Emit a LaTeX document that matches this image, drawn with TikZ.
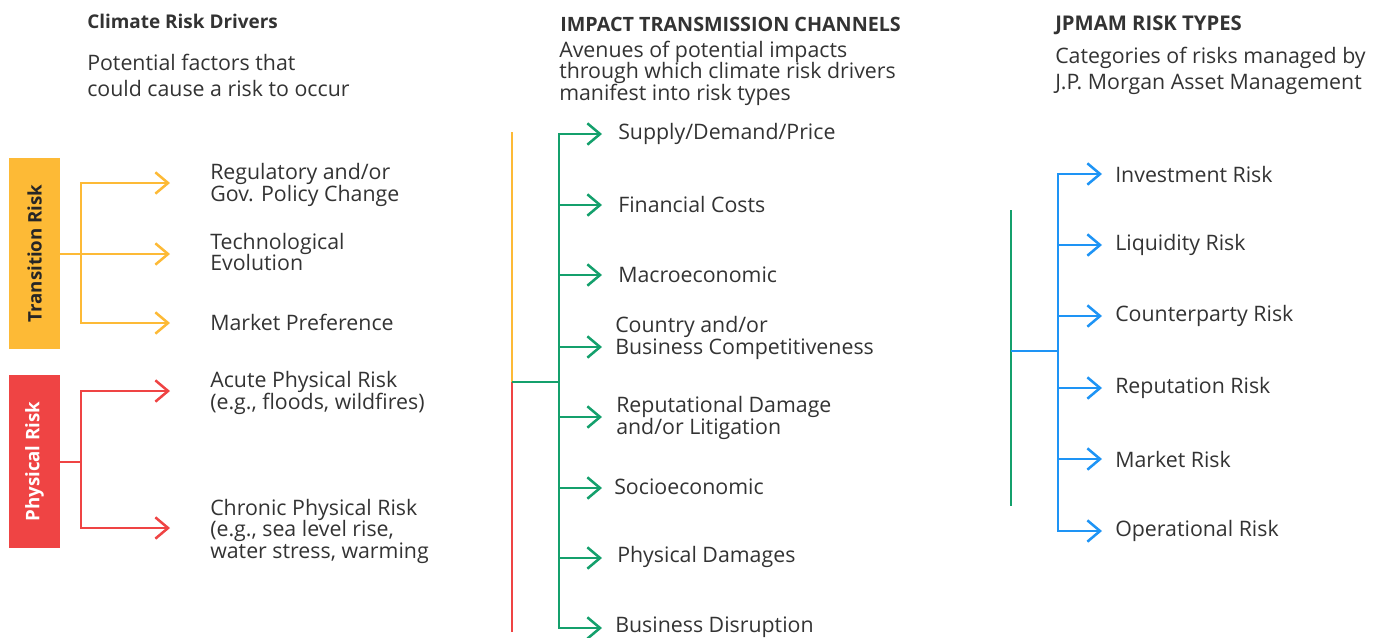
\documentclass[tikz,border=0pt]{standalone}
\usepackage{fontspec}
\setmainfont{Open Sans}
\usetikzlibrary{arrows.meta}
\definecolor{amber}{HTML}{FDBA36}
\definecolor{rred}{HTML}{EF4444}
\definecolor{ggreen}{HTML}{14A06C}
\definecolor{bblue}{HTML}{1E94F5}
\definecolor{txt}{HTML}{333333}
\newcommand{\bodyfont}{\fontsize{16}{16.1}\selectfont}
\tikzset{
  lab/.style={anchor=west, align=left, inner sep=0pt, text=txt, font=\bodyfont},
  ttl/.style={anchor=west, align=left, inner sep=0pt, text=txt},
  conn/.style={line width=1.9pt, line join=miter},
  tip/.style={-{Straight Barb[length=9.5pt,width=16pt]}},
  yline/.style={conn, draw=amber},
  rline/.style={conn, draw=rred},
  gline/.style={conn, draw=ggreen},
  bline/.style={conn, draw=bblue},
  riskbox/.style={rectangle, inner sep=0pt, minimum width=38.25pt, font=\fontsize{14}{16}\selectfont\bfseries}
}
\begin{document}
\begin{tikzpicture}[x=0.75pt,y=-0.75pt]
\useasboundingbox (0,0) rectangle (1381,637);

% ---- titles
\node[ttl, font=\fontsize{14.2}{16}\selectfont\bfseries] (h1) at (87,21) {Climate Risk Drivers};
\node[lab, font=\fontsize{16}{19.5}\selectfont] (s1) at (87,75) {Potential factors that\\could cause a risk to occur};
\node[ttl, font=\fontsize{14.8}{16}\selectfont\bfseries] (h2) at (560,24) {IMPACT TRANSMISSION CHANNELS};
\node[lab] (s2) at (559,73) {Avenues of potential impacts\\through which climate risk drivers\\manifest into risk types};
\node[ttl, font=\fontsize{15.2}{16}\selectfont\bfseries] (h3) at (1055,25) {JPMAM RISK TYPES};
\node[lab, font=\fontsize{16}{19.5}\selectfont] (s3) at (1055,71) {Categories of risks managed by\\J.P. Morgan Asset Management};

% ---- left boxes
\node[riskbox, fill=amber, minimum height=143.25pt, text=black!85] (trans) at (34.5,253.5) {\rotatebox{90}{Transition Risk}};
\node[riskbox, fill=rred, minimum height=129.75pt, text=white] (phys) at (34.5,461.5) {\rotatebox{90}{Physical Risk}};

% ---- left labels and tips
\node[lab] (l1) at (210,185) {Regulatory and/or\\Gov. Policy Change};
\node[lab] (l2) at (210,252) {Technological\\Evolution};
\node[lab] (l3) at (210,322) {Market Preference};
\node[lab] (l4) at (210,393) {Acute Physical Risk\\(e.g., floods, wildfires)};
\node[lab] (l5) at (210,531) {Chronic Physical Risk\\(e.g., sea level rise,\\water stress, warming};
\coordinate (t1) at (170,183);
\coordinate (t2) at (170,254);
\coordinate (t3) at (170,323);
\coordinate (t4) at (170,391);
\coordinate (t5) at (170,528);
\coordinate (tj) at (81,254);
\coordinate (pj) at (81,462);

\draw[yline, tip] (trans.east |- t2) -- (t2);
\draw[yline, tip] (tj) |- (t1);
\draw[yline, tip] (tj) |- (t3);
\draw[rline] (phys.east |- pj) -- (pj);
\draw[rline, tip] (pj) |- (t4);
\draw[rline, tip] (pj) |- (t5);

% ---- middle trunk
\coordinate (mtop) at (512,132);
\coordinate (mj) at (512,382);
\coordinate (mbot) at (512,632);
\coordinate (gj) at (559,382);
\draw[yline] (mtop) -- (mj);
\draw[rline] (mj) -- (mbot);
\draw[gline] (mj) -- (gj);

% ---- middle labels
\node[lab] (m1) at (618,134) {Supply/Demand/Price};
\node[lab] (m2) at (618,204) {Financial Costs};
\node[lab] (m3) at (618,275) {Macroeconomic};
\node[lab] (m4) at (615,338) {Country and/or\\Business Competitiveness};
\node[lab] (m5) at (616,418) {Reputational Damage\\and/or Litigation};
\node[lab] (m6) at (614,487) {Socioeconomic};
\node[lab] (m7) at (617,557) {Physical Damages};
\node[lab] (m8) at (615,627) {Business Disruption};
\coordinate (g1) at (602,134);
\coordinate (g2) at (602,205);
\coordinate (g3) at (602,275);
\coordinate (g4) at (602,347);
\coordinate (g5) at (602,417);
\coordinate (g6) at (602,488);
\coordinate (g7) at (602,558);
\coordinate (g8) at (602,628);
\foreach \i in {1,...,8} {\draw[gline, tip] (gj) |- (g\i);}

% ---- right trunk
\coordinate (rtop) at (1011,210);
\coordinate (rj) at (1011,351);
\coordinate (rbot) at (1011,506);
\coordinate (bj) at (1058,351);
\draw[gline] (rtop) -- (rbot);
\draw[bline] (rj) -- (bj);

% ---- right labels
\node[lab] (r1) at (1115,174) {Investment Risk};
\node[lab] (r2) at (1115,245) {Liquidity Risk};
\node[lab] (r3) at (1115,316) {Counterparty Risk};
\node[lab] (r4) at (1115,388) {Reputation Risk};
\node[lab] (r5) at (1115,459) {Market Risk};
\node[lab] (r6) at (1115,531) {Operational Risk};
\coordinate (b1) at (1102,174);
\coordinate (b2) at (1102,245);
\coordinate (b3) at (1102,316);
\coordinate (b4) at (1102,388);
\coordinate (b5) at (1102,459);
\coordinate (b6) at (1102,531);
\foreach \i in {1,...,6} {\draw[bline, tip] (bj) |- (b\i);}
\end{tikzpicture}
\end{document}
